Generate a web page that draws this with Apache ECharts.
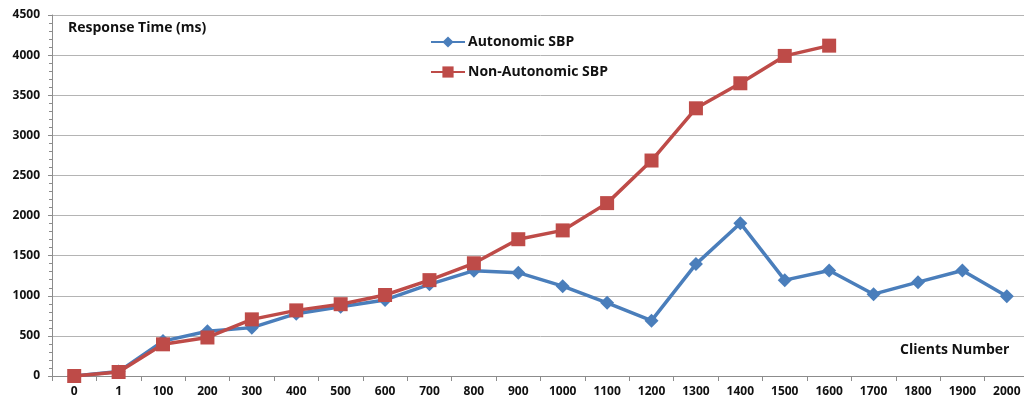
<!DOCTYPE html>
<html>
<head>
<meta charset="utf-8">
<script src="https://cdn.jsdelivr.net/npm/echarts@6/dist/echarts.min.js"></script>
<style>
  html, body { margin: 0; padding: 0; background: #fff; overflow: hidden; }
  /* the plot runs slightly past the right window edge */
  #chart { width: 1030px; height: 401px; }
</style>
</head>
<body>
<div id="chart"></div>
<script>
// Number of concurrent clients
const clients = ['0', '1', '100', '200', '300', '400', '500', '600', '700', '800', '900',
  '1000', '1100', '1200', '1300', '1400', '1500', '1600', '1700', '1800', '1900', '2000'];

// Response time (ms) per client count
const autonomic = [0, 55, 435, 557, 603, 777, 864, 948, 1143, 1313, 1288,
  1120, 912, 690, 1395, 1905, 1195, 1315, 1020, 1170, 1315, 995];
const nonAutonomic = [0, 50, 395, 480, 706, 818, 895, 1010, 1195, 1405, 1705,
  1815, 2155, 2686, 3337, 3649, 3990, 4118];

const yTicks = { min: 0, max: 4500, step: 500 };

const font = 'Open Sans';
const chart = echarts.init(document.getElementById('chart'), null, { renderer: 'canvas' });

chart.setOption({
  animation: false,
  backgroundColor: '#ffffff',
  textStyle: { fontFamily: font },
  grid: { left: 52, top: 15, right: 1, height: 361, containLabel: false },
  legend: {
    left: 425,
    top: 30,
    orient: 'vertical',
    itemGap: 16,
    itemWidth: 34,
    itemHeight: 14,
    textStyle: { fontFamily: font, fontSize: 14, fontWeight: 'bold', color: '#111', padding: [0, 0, 0, -2] },
    data: ['Autonomic SBP', 'Non-Autonomic SBP']
  },
  xAxis: {
    type: 'category',
    data: clients,
    boundaryGap: true,
    axisLine: { lineStyle: { color: '#8c8c8c', width: 1 } },
    axisTick: { show: true, alignWithLabel: false, length: 5, lineStyle: { color: '#8c8c8c' } },
    axisLabel: { fontFamily: font, fontSize: 12, fontWeight: 'bold', color: '#111', margin: 10 },
    splitLine: { show: false }
  },
  yAxis: {
    type: 'value',
    min: yTicks.min,
    max: yTicks.max,
    interval: yTicks.step,
    axisLine: { show: true, lineStyle: { color: '#8c8c8c', width: 1 } },
    axisTick: { show: true, length: 4, inside: false, lineStyle: { color: '#8c8c8c' } },
    minorTick: { show: true, splitNumber: 5, length: 3, lineStyle: { color: '#8c8c8c' } },
    axisLabel: {
      fontFamily: font, fontSize: 12, fontWeight: 'bold', color: '#111', margin: 12,
      formatter: (v) => String(v)
    },
    splitLine: { show: true, lineStyle: { color: '#b4b4b4', width: 1 } }
  },
  graphic: [
    {
      type: 'text', left: 68, top: 21,
      style: { text: 'Response Time (ms)', font: 'bold 14px "Open Sans"', fill: '#111' }
    },
    {
      type: 'text', left: 900, top: 343,
      style: { text: 'Clients Number', font: 'bold 14px "Open Sans"', fill: '#111' }
    }
  ],
  series: [
    {
      name: 'Autonomic SBP',
      type: 'line',
      data: autonomic,
      symbol: 'diamond',
      symbolSize: 14,
      lineStyle: { color: '#4a7ebb', width: 3.5 },
      itemStyle: { color: '#4a7ebb' },
      z: 2
    },
    {
      name: 'Non-Autonomic SBP',
      type: 'line',
      data: nonAutonomic,
      symbol: 'rect',
      symbolSize: 14,
      lineStyle: { color: '#be4b48', width: 3.5 },
      itemStyle: { color: '#be4b48' },
      z: 3
    }
  ]
});
</script>
</body>
</html>
